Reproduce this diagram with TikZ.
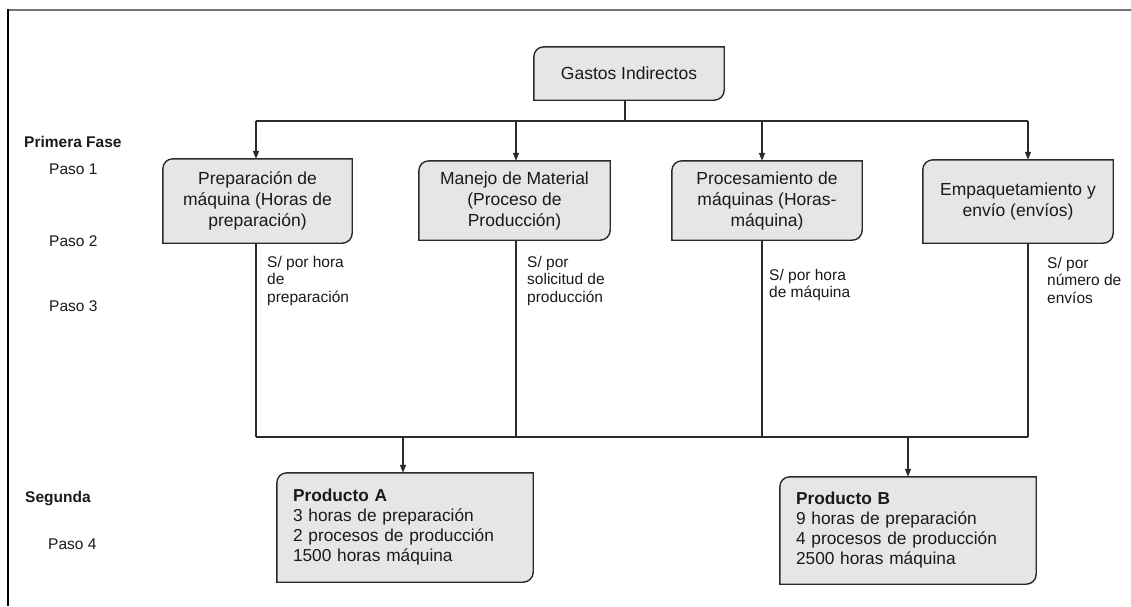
\documentclass[tikz,border=0pt]{standalone}
\usepackage{fontspec}
\setmainfont{Liberation Sans}
\usetikzlibrary{arrows.meta}
\pgfdeclarelayer{bg}
\pgfsetlayers{bg,main}
\definecolor{boxfill}{HTML}{E6E6E6}
\definecolor{ink}{HTML}{1A1A1A}
\definecolor{edge}{HTML}{2A2A2A}
\newcommand\rboxoutline[1]{%
  \begin{pgfonlayer}{bg}
  \filldraw[outline] (#1.south west) -- ([yshift=-10pt]#1.north west)
    arc[start angle=180,end angle=90,radius=10pt] -- (#1.north east)
    -- ([yshift=10pt]#1.south east)
    arc[start angle=0,end angle=-90,radius=10pt] -- cycle;
  \end{pgfonlayer}}
\tikzset{
  outline/.style={draw=edge,fill=boxfill,line width=1.4pt},
  catbox/.style={inner sep=0pt,align=center,text=ink,
    font=\fontsize{17.5}{21}\selectfont},
  prodbox/.style={inner xsep=16pt,inner ysep=0pt,align=left,text=ink,
    text width=224pt,minimum height=#1,anchor=center,
    font=\fontsize{17.3}{20}\selectfont},
  rate/.style={anchor=north west,inner sep=0pt,align=left,text=ink,
    font=\fontsize{15.5}{17.5}\selectfont},
  side/.style={anchor=west,inner sep=0pt,text=ink,
    font=\fontsize{15.5}{18}\selectfont},
  wire/.style={draw=edge,line width=1.4pt},
  arr/.style={wire,-{Triangle[length=8pt,width=6pt]}},
}
\begin{document}
\begin{tikzpicture}[x=1pt,y=-1pt]
\useasboundingbox (0,0) rectangle (1131,606);
% frame
\draw[line width=1.5pt,draw=gray!90!black] (8,10) -- (1131,10);
\draw[line width=2.2pt,draw=black] (8,9) -- (8,606);

% top box
\node[catbox,minimum width=190pt,minimum height=53pt] (g) at (629,73.5) {Gastos Indirectos};
\rboxoutline{g}

% category boxes
\node[catbox,minimum width=189pt,minimum height=84pt] (b1) at (257.5,201)
  {Preparación de\\máquina (Horas de\\preparación)};
\node[catbox,minimum width=191pt,minimum height=79pt] (b2) at (514.5,200.5)
  {Manejo de Material\\(Proceso de\\Producción)};
\node[catbox,minimum width=190pt,minimum height=79pt] (b3) at (767,200.5)
  {Procesamiento de\\máquinas (Horas-\\máquina)};
\node[catbox,minimum width=190pt,minimum height=83pt] (b4) at (1018,201.5)
  {Empaquetamiento y\\envío (envíos)};
\rboxoutline{b1}\rboxoutline{b2}\rboxoutline{b3}\rboxoutline{b4}

% product boxes
\node[prodbox=109pt] (pa) at (405,527.5)
  {\textbf{Producto A}\\3 horas de preparación\\2 procesos de producción\\1500 horas máquina};
\node[prodbox=107pt] (pb) at (908,530.5)
  {\textbf{Producto B}\\9 horas de preparación\\4 procesos de producción\\2500 horas máquina};
\rboxoutline{pa}\rboxoutline{pb}

% bus coordinates
\coordinate (s) at (625,121);
\coordinate (t1) at (256,121);
\coordinate (t2) at (516,121);
\coordinate (t3) at (762,121);
\coordinate (t4) at (1028,121);
\coordinate (u1) at (256,437);
\coordinate (u2) at (516,437);
\coordinate (u3) at (762,437);
\coordinate (u4) at (1028,437);
\coordinate (ua) at (403,437);
\coordinate (ub) at (908,437);

% top distribution
\draw[wire] (g.south -| s) -- (s);
\draw[wire] (t1) -- (t4);
\draw[arr] (t1) -- (t1 |- b1.north);
\draw[arr] (t2) -- (t2 |- b2.north);
\draw[arr] (t3) -- (t3 |- b3.north);
\draw[arr] (t4) -- (t4 |- b4.north);

% down to collector
\draw[wire] (u1 |- b1.south) -- (u1);
\draw[wire] (u2 |- b2.south) -- (u2);
\draw[wire] (u3 |- b3.south) -- (u3);
\draw[wire] (u4 |- b4.south) -- (u4);
\draw[wire] (u1) -- (u4);
\draw[arr] (ua) -- (ua |- pa.north);
\draw[arr] (ub) -- (ub |- pb.north);

% rate labels
\node[rate] (r1) at (267,256) {S/ por hora\\de\\preparación};
\node[rate] (r2) at (527,256) {S/ por\\solicitud de\\producción};
\node[rate] (r3) at (769,269) {S/ por hora\\de máquina};
\node[rate] (r4) at (1047,257) {S/ por\\número de\\envíos};

% side labels
\node[side,font=\fontsize{15.5}{18}\selectfont\bfseries] (f1) at (24,142) {Primera Fase};
\node[side] (p1) at (49,169) {Paso 1};
\node[side] (p2) at (49,241) {Paso 2};
\node[side] (p3) at (49,306) {Paso 3};
\node[side,font=\fontsize{15.5}{18}\selectfont\bfseries] (f2) at (25,499) {Segunda};
\node[side] (p4) at (48,544) {Paso 4};
\end{tikzpicture}
\end{document}
